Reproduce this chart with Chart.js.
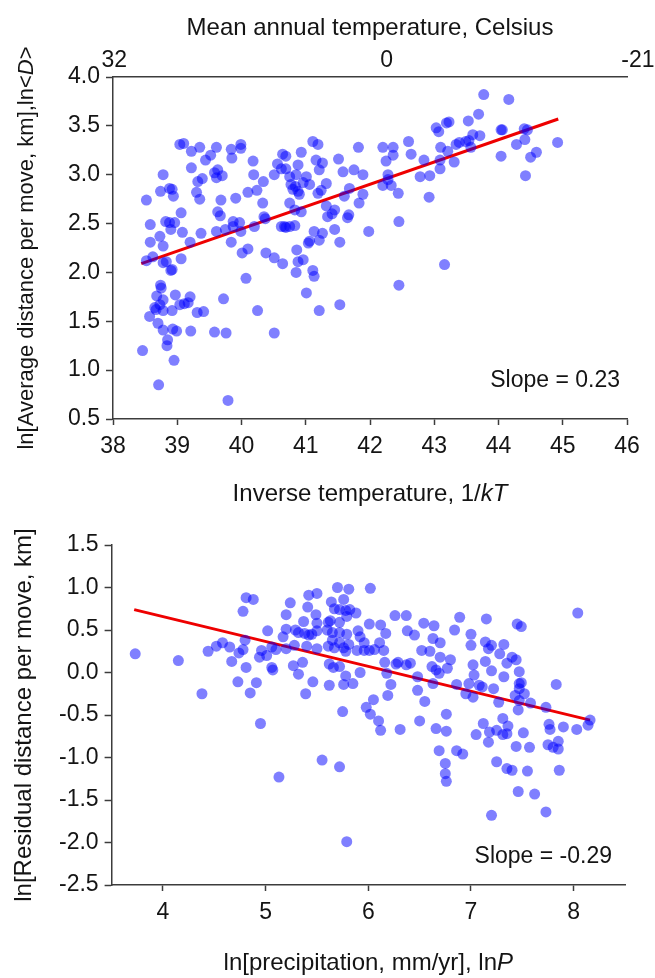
<!DOCTYPE html>
<html><head><meta charset="utf-8">
<script src="https://cdn.jsdelivr.net/npm/chart.js@4.4.1/dist/chart.umd.min.js"></script>
<style>
html,body{margin:0;padding:0;background:#fff;}
#wrap{position:relative;width:655px;height:978px;overflow:hidden;}
#c1{position:absolute;left:0;top:0;}
#c2{position:absolute;left:0;top:520px;}
</style></head><body>
<div id="wrap"><canvas id="c1" width="655" height="520"></canvas><canvas id="c2" width="655" height="458"></canvas></div>
<script>
// ---------- Panel 1: inverse temperature (1/kT) vs ln<D> ----------
const tempX = [
38.52,38.78,38.74,38.88,38.92,38.94,38.58,38.82,38.88,38.96,
38.90,39.06,39.08,38.58,38.73,38.78,39.20,38.52,38.62,38.83,
38.90,38.92,39.06,38.78,39.04,39.10,39.22,39.35,39.22,39.32,
39.39,39.30,39.35,39.44,39.52,39.61,39.58,39.61,39.70,39.63,
39.37,39.63,39.67,39.68,39.61,39.75,39.87,39.84,39.87,39.91,
39.99,39.97,40.01,40.10,39.84,39.85,39.99,39.99,40.18,40.19,
40.10,40.24,40.34,40.33,40.20,40.37,40.35,40.38,40.51,40.64,
40.07,40.51,40.56,40.64,40.69,40.62,40.69,40.75,40.77,40.80,
40.84,40.88,40.90,40.75,40.83,40.93,40.88,40.93,40.85,40.96,
41.01,41.06,41.11,41.19,41.16,41.21,41.26,40.62,40.67,40.75,
40.83,40.69,40.86,40.88,40.96,41.06,41.04,41.13,41.21,41.26,
41.19,41.24,41.32,41.34,40.85,41.11,41.13,
38.74,38.75,38.68,38.78,38.97,38.57,38.67,38.65,38.73,38.78,
38.92,39.04,39.11,39.17,39.20,39.31,39.41,38.70,38.78,38.93,
38.99,39.21,39.58,39.76,39.72,38.46,38.85,38.84,38.95,38.71,
39.79,40.25,40.51,41.01,41.21,41.53,
41.82,41.51,41.58,41.75,41.89,41.32,41.68,41.60,41.89,41.83,
41.67,41.65,41.45,41.41,41.45,41.53,41.98,42.20,42.36,42.36,
42.25,42.28,42.28,42.20,42.33,42.44,42.60,42.64,42.45,42.92,
42.84,42.78,42.93,43.03,43.07,43.19,43.23,43.10,43.09,43.09,
43.21,43.31,43.34,43.39,43.49,43.54,43.57,43.60,43.53,43.69,
43.71,43.77,44.16,44.04,44.06,44.04,44.28,44.40,44.45,44.41,
44.50,44.59,44.42,44.92,43.16,42.45
];
const tempY = [
2.74,3.00,2.83,2.86,2.85,2.78,2.49,2.52,2.51,2.51,
2.44,2.61,2.41,2.31,2.37,2.27,2.31,2.12,2.16,2.11,
2.02,2.03,2.14,2.10,3.31,3.32,3.24,3.28,3.07,2.93,
2.96,2.82,2.75,3.15,3.20,3.28,3.02,2.97,2.99,3.05,
2.40,2.62,2.58,2.74,2.42,2.44,2.52,2.31,2.47,2.76,
2.42,2.51,2.20,2.24,3.26,3.17,3.31,3.27,3.14,3.00,
2.82,2.84,2.93,2.71,2.47,2.55,2.57,2.20,2.15,2.09,
1.94,3.00,3.11,3.21,3.19,3.06,3.06,2.98,2.90,2.85,
2.88,2.83,2.80,2.71,2.64,2.62,3.10,3.23,3.00,2.92,
2.98,2.90,3.34,3.31,3.15,3.05,3.12,2.47,2.47,2.47,
2.48,2.46,2.23,2.11,2.13,2.32,2.30,2.42,2.33,2.40,
2.81,2.84,2.68,2.57,2.00,2.02,1.96,
1.87,1.84,1.76,1.72,1.77,1.55,1.62,1.64,1.67,1.61,
1.61,1.67,1.68,1.69,1.75,1.59,1.60,1.48,1.41,1.42,
1.40,1.40,1.39,1.38,1.73,1.20,1.31,1.25,1.10,0.85,
0.69,1.61,1.38,1.79,1.61,1.67,
3.28,3.16,3.03,3.05,3.00,2.91,2.86,2.78,2.80,2.71,
2.59,2.56,2.64,2.60,2.44,2.31,2.42,3.28,3.28,3.20,
3.14,3.00,2.95,2.89,2.89,2.81,3.34,3.21,2.52,2.77,
3.15,2.98,2.99,3.48,3.44,3.53,3.54,3.28,3.15,3.06,
3.24,3.13,3.31,3.33,3.34,3.35,3.28,3.41,3.55,3.62,
3.40,3.82,3.77,3.46,3.46,3.19,3.31,3.47,3.46,3.36,
3.18,3.23,2.99,3.33,2.08,1.87
];
const tempFitX = [38.44, 44.93];
const tempFitY = [2.09, 3.57];
const tempSlopeLabel = 'Slope = 0.23';
// top (Celsius) axis labels and where they sit on the 1/kT scale
const celsiusLabels = ['32', '0', '-21'];
const celsiusTickAt = [38.02, 42.26, 46.17];

// ---------- Panel 2: ln precipitation vs residual ln distance ----------
const precipX = [
3.73,4.15,4.38,4.44,4.52,4.58,4.65,4.67,4.74,4.73,4.85,4.95,5.13,
4.81,4.88,4.78,5.24,5.42,5.50,5.70,5.81,6.02,5.41,
5.20,5.49,5.64,5.67,5.76,5.72,5.78,5.82,5.88,5.79,
5.63,5.72,5.61,5.50,5.37,5.20,5.02,5.17,5.29,5.32,
5.38,5.42,5.45,5.50,5.60,5.65,5.72,5.79,5.90,5.92,
6.01,6.12,6.17,6.26,6.37,6.38,5.96,5.89,5.96,6.01,
6.06,6.11,6.15,5.81,5.72,5.65,5.61,5.67,5.76,5.78,
5.50,5.40,5.28,5.20,5.10,5.06,4.96,4.94,5.01,4.80,
4.78,4.81,4.91,5.06,5.07,5.27,5.36,5.32,5.46,5.39,
5.62,5.66,5.72,5.78,5.76,5.85,5.62,5.92,6.16,6.27,
6.29,6.18,6.22,6.19,6.05,5.98,5.75,6.37,
6.54,6.64,6.63,6.70,6.52,6.60,6.70,6.62,6.66,6.69,
6.77,6.80,6.63,6.84,6.89,7.00,7.00,6.86,6.95,7.02,
7.02,7.03,6.98,7.08,7.11,7.15,7.14,7.17,7.20,7.14,
7.20,7.22,7.27,7.32,7.28,7.35,7.32,7.40,7.44,7.47,
7.45,7.49,7.43,7.47,7.49,7.47,7.47,7.46,7.52,7.58,
7.73,7.83,8.04,6.55,6.48,6.41,6.48,6.45,
6.02,6.10,6.12,6.31,6.50,6.66,6.76,6.76,6.69,6.86,
6.92,6.75,6.75,6.76,7.12,7.05,7.17,7.18,7.25,7.31,
7.36,7.35,7.31,7.44,7.51,7.57,7.25,7.35,7.40,7.55,
7.46,7.62,7.20,7.73,7.76,7.77,7.90,8.03,8.14,8.16,
7.75,7.80,7.85,7.85,7.86,5.55,5.72,5.79
];
const residY = [
0.22,0.14,-0.25,0.25,0.31,0.35,0.30,0.13,0.23,-0.11,-0.24,-0.60,-1.23,
0.88,0.86,0.72,0.82,0.91,0.93,1.00,0.98,0.99,0.77,
0.68,0.68,0.83,0.75,0.86,0.74,0.73,0.74,0.70,0.66,
0.61,0.59,0.59,0.58,0.60,0.51,0.49,0.42,0.50,0.47,
0.46,0.44,0.45,0.49,0.50,0.47,0.47,0.45,0.49,0.42,
0.57,0.56,0.46,0.67,0.67,0.49,0.35,0.26,0.26,0.26,
0.27,0.35,0.26,0.33,0.35,0.38,0.31,0.29,0.29,0.25,
0.28,0.31,0.32,0.28,0.27,0.30,0.26,0.18,0.20,0.38,
0.27,0.06,-0.12,0.06,0.03,0.08,0.12,-0.02,-0.11,-0.25,
0.10,0.06,0.07,-0.04,-0.14,-0.13,-0.15,0.00,0.12,0.10,
0.12,-0.01,-0.14,-0.27,-0.32,-0.41,-0.46,0.09,
0.58,0.55,0.40,0.35,0.26,0.25,0.18,0.07,0.03,-0.01,
0.05,0.15,-0.13,0.50,0.65,0.45,0.32,-0.14,-0.25,-0.29,
0.09,-0.03,-0.13,-0.15,-0.17,0.63,0.36,0.28,0.32,0.13,
0.02,-0.19,-0.35,0.33,0.22,0.11,-0.05,0.18,0.15,0.01,
0.57,0.54,-0.27,-0.13,-0.12,-0.19,-0.33,-0.44,-0.25,-0.36,
-0.41,-0.14,0.70,-0.34,-0.21,0.11,-0.05,0.44,
-0.49,-0.57,-0.68,-0.67,-0.57,-0.66,-0.49,-0.69,-0.92,-0.92,
-0.96,-1.07,-1.19,-1.28,-0.60,-0.73,-0.82,-0.70,-0.68,-0.54,
-0.63,-0.72,-0.73,-0.87,-0.71,-0.88,-1.05,-1.13,-1.15,-1.16,
-1.40,-1.43,-1.68,-1.64,-0.61,-0.67,-0.64,-0.67,-0.62,-0.56,
-0.85,-0.88,-0.90,-0.81,-1.15,-1.03,-1.11,-1.99
];
const precipFitX = [3.72, 8.16];
const residFitY = [0.74, -0.56];
const precipSlopeLabel = 'Slope = -0.29';
const precipTicks = [4, 5, 6, 7, 8];

// ---------- drawing ----------
const FONT = "'Liberation Sans', Arial, Helvetica, sans-serif";
const AX = '#3c3c3c';
const TXT = '#141414';
const DOT = 'rgba(0,0,255,0.5)';
const FIT = '#ee0000';
Chart.defaults.font.family = FONT;
Chart.defaults.color = TXT;

function pts(xs, ys) {
  const n = Math.min(xs.length, ys.length);
  const out = [];
  for (let i = 0; i < n; i++) out.push({x: xs[i], y: ys[i]});
  return out;
}
function fmt1(v) { const r = Math.round(v * 10) / 10; return (Math.abs(r) < 1e-9 ? 0 : r).toFixed(1); }
function fixBox(w, h) {
  return s => {
    if (w != null) s.width = w;
    if (h != null) s.height = h;
    s.paddingLeft = 0; s.paddingRight = 0; s.paddingTop = 0; s.paddingBottom = 0;
  };
}
function drawRuns(ctx, runs, x, y, size, rot, align) {
  ctx.save();
  ctx.translate(x, y);
  ctx.rotate(rot || 0);
  ctx.textBaseline = 'middle';
  ctx.textAlign = 'left';
  ctx.fillStyle = TXT;
  const fonts = runs.map(r => (r.i ? 'italic ' : '') + size + 'px ' + FONT);
  let total = 0;
  runs.forEach((r, k) => { ctx.font = fonts[k]; total += ctx.measureText(r.t).width; });
  let cx = align === 'right' ? -total : -total / 2;
  runs.forEach((r, k) => { ctx.font = fonts[k]; ctx.fillText(r.t, cx, 0); cx += ctx.measureText(r.t).width; });
  ctx.restore();
}
const richText = {
  id: 'richText',
  afterDraw(chart, args, opts) {
    const ca = chart.chartArea;
    (opts.items || []).forEach(it => {
      const p = it.pos(ca);
      drawRuns(chart.ctx, it.runs, p.x, p.y, it.size, it.rot, it.align);
    });
  }
};

const tickFont = {size: 23, family: FONT};
const tickGrid = {display: true, drawOnChartArea: false, drawTicks: true, tickLength: 6, tickWidth: 1.5, tickColor: AX};
const border = {display: true, color: AX, width: 1.5};

function datasets(xs, ys, fx, fy) {
  return [
    {type: 'scatter', data: pts(xs, ys), backgroundColor: DOT, borderWidth: 0, pointRadius: 5.5, pointHoverRadius: 5.5},
    {type: 'line', data: pts(fx, fy), borderColor: FIT, borderWidth: 3, pointRadius: 0, fill: false, tension: 0}
  ];
}

// Top chart
new Chart(document.getElementById('c1'), {
  type: 'scatter',
  data: {datasets: datasets(tempX, tempY, tempFitX, tempFitY)},
  plugins: [richText],
  options: {
    responsive: false, animation: false, events: [],
    layout: {padding: {left: 0, top: 0, right: 28, bottom: 0}},
    plugins: {
      legend: {display: false}, tooltip: {enabled: false},
      richText: {items: [
        {runs: [{t: 'Mean annual temperature, Celsius'}], size: 24, pos: ca => ({x: (ca.left + ca.right) / 2, y: 28})},
        {runs: [{t: 'Inverse temperature, 1/'}, {t: 'kT', i: true}], size: 24, pos: ca => ({x: (ca.left + ca.right) / 2, y: ca.bottom + 75})},
        {runs: [{t: 'ln[Average distance per move, km],ln<'}, {t: 'D', i: true}, {t: '>'}], size: 22, rot: -Math.PI / 2, pos: ca => ({x: 27, y: (ca.top + ca.bottom) / 2})},
        {runs: [{t: tempSlopeLabel}], size: 23, align: 'right', pos: ca => ({x: ca.right - 7, y: ca.bottom - 38})}
      ]}
    },
    scales: {
      x: {
        type: 'linear', position: 'bottom', min: 38, max: 46,
        ticks: {stepSize: 1, font: tickFont, color: TXT, padding: 8, autoSkip: false, maxRotation: 0},
        grid: tickGrid, border: border,
        afterFit: fixBox(null, 101)
      },
      x2: {
        type: 'linear', position: 'top', min: 38, max: 46,
        afterBuildTicks: s => { s.ticks = celsiusTickAt.map(v => ({value: v})); },
        ticks: {font: tickFont, color: TXT, padding: 3, autoSkip: false, maxRotation: 0, callback: (v, i) => celsiusLabels[i]},
        grid: {display: false, drawTicks: false}, border: border,
        afterFit: fixBox(null, 77)
      },
      y: {
        type: 'linear', position: 'left', min: 0.5, max: 4.0,
        ticks: {stepSize: 0.5, font: tickFont, color: TXT, padding: 6, callback: v => fmt1(v)},
        grid: Object.assign({}, tickGrid, {tickLength: 7}), border: border,
        afterFit: fixBox(113, null)
      }
    }
  }
});

// Bottom chart
new Chart(document.getElementById('c2'), {
  type: 'scatter',
  data: {datasets: datasets(precipX, residY, precipFitX, residFitY)},
  plugins: [richText],
  options: {
    responsive: false, animation: false, events: [],
    layout: {padding: {left: 0, top: 25, right: 30, bottom: 0}},
    plugins: {
      legend: {display: false}, tooltip: {enabled: false},
      richText: {items: [
        {runs: [{t: 'ln[precipitation, mm/yr], ln'}, {t: 'P', i: true}], size: 24, pos: ca => ({x: (ca.left + ca.right) / 2, y: ca.bottom + 78})},
        {runs: [{t: 'ln[Residual distance per move, km]'}], size: 24, rot: -Math.PI / 2, pos: ca => ({x: 24, y: (ca.top + ca.bottom) / 2})},
        {runs: [{t: precipSlopeLabel}], size: 23, align: 'right', pos: ca => ({x: ca.right - 13, y: ca.bottom - 28})}
      ]}
    },
    scales: {
      x: {
        type: 'linear', position: 'bottom', min: 3.5, max: 8.5,
        afterBuildTicks: s => { s.ticks = precipTicks.map(v => ({value: v})); },
        ticks: {font: tickFont, color: TXT, padding: 8, autoSkip: false, maxRotation: 0},
        grid: tickGrid, border: border,
        afterFit: fixBox(null, 93)
      },
      y: {
        type: 'linear', position: 'left', min: -2.5, max: 1.5,
        ticks: {stepSize: 0.5, font: tickFont, color: TXT, padding: 6, callback: v => fmt1(v)},
        grid: Object.assign({}, tickGrid, {tickLength: 7}), border: border,
        afterFit: fixBox(111.6, null)
      }
    }
  }
});
</script>
</body></html>
